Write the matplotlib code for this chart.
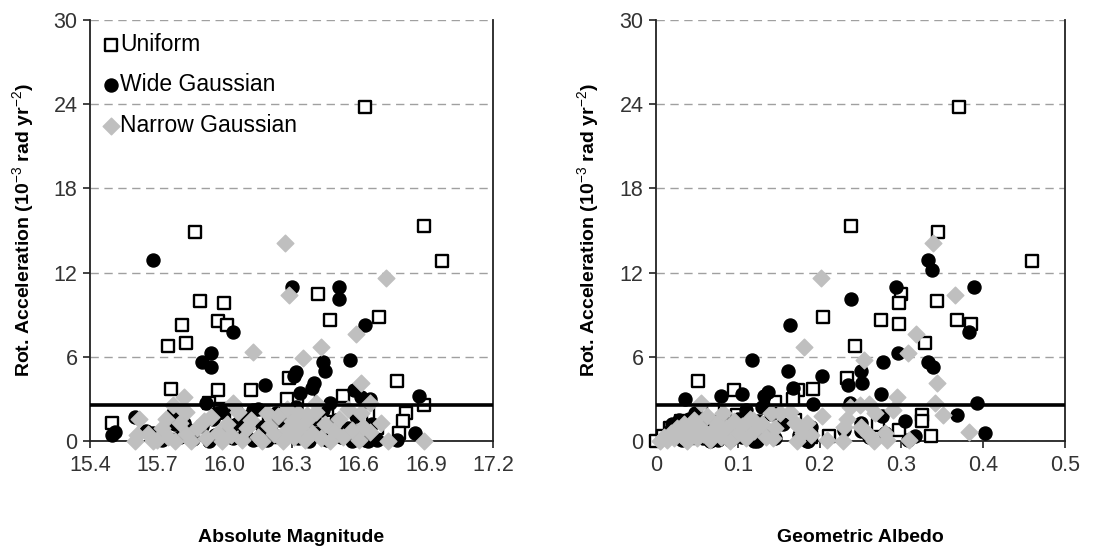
import matplotlib
matplotlib.use("Agg")
import matplotlib.pyplot as plt

plt.rcParams["font.family"] = ["Liberation Sans", "DejaVu Sans"]
plt.rcParams["mathtext.fontset"] = "custom"
plt.rcParams["mathtext.rm"] = "Liberation Sans"
plt.rcParams["mathtext.bf"] = "Liberation Sans:bold"

# --- absolute magnitude panel (x = H, y = rot. acceleration) ---
h_uni_x = [15.50, 15.87, 15.75, 15.81, 15.83, 15.89, 16.00, 15.97, 16.01, 15.76,
           15.97, 16.12, 16.63, 16.89, 16.97, 16.42, 16.47, 16.69, 16.77, 16.29,
           16.28, 16.53, 16.89, 16.81, 16.80, 16.78, 16.64, 15.78, 15.89, 15.93,
           15.98, 16.46, 16.61, 16.20, 16.08, 16.35, 16.50, 16.25, 16.68, 16.05,
           16.38, 16.37]
h_uni_y = [1.3, 14.9, 6.8, 8.3, 7.0, 10.0, 9.8, 8.55, 8.3, 3.7,
           3.6, 3.6, 23.8, 15.3, 12.8, 10.5, 8.6, 8.8, 4.3, 4.5,
           3.0, 3.2, 2.6, 2.0, 1.45, 0.55, 1.9, 0.9, 0.55, 2.7,
           2.3, 2.2, 1.5, 1.4, 0.8, 1.2, 0.4, 0.3, 0.9, 1.9,
           3.0, 1.5]

h_wide_x = [15.50, 15.51, 15.60, 15.68, 15.65, 15.68, 15.90, 15.94, 15.94, 16.04,
            16.18, 16.30, 16.32, 16.31, 16.34, 16.40, 16.39, 16.44, 16.45, 16.51,
            16.51, 16.56, 16.63, 16.58, 16.61, 16.65, 16.87, 16.85, 16.47, 15.92,
            15.97, 16.77, 16.63, 16.68, 16.13, 16.24, 16.27, 15.77, 15.82,
            15.72, 15.78, 15.80, 15.84, 15.86, 15.90, 15.93, 15.95, 15.96, 15.99,
            16.02, 16.04, 16.06, 16.09, 16.11, 16.13, 16.15, 16.17, 16.19, 16.21,
            16.23, 16.25, 16.26, 16.28, 16.30, 16.32, 16.33, 16.36, 16.38, 16.40,
            16.42, 16.44, 16.46, 16.48, 16.50, 16.52, 16.55, 16.57, 16.59, 16.62,
            16.64, 16.66]
h_wide_y = [0.4, 0.65, 1.7, 12.9, 0.7, 0.55, 5.65, 6.3, 5.3, 7.8,
            4.0, 11.0, 4.9, 4.6, 3.4, 4.1, 3.75, 5.65, 5.0, 10.95,
            10.1, 5.8, 8.3, 3.6, 3.15, 3.0, 3.2, 0.55, 2.7, 2.7,
            2.0, 0.1, 0.1, 0.05, 2.2, 1.7, 1.4, 2.0, 1.3,
            0.1, 1.2, 0.3, 0.8, 0.15, 1.1, 0.0, 1.6, 0.4, 2.1,
            0.9, 0.2, 1.3, 0.6, 1.8, 0.1, 2.3, 1.0, 0.05, 0.7,
            2.0, 1.5, 0.3, 1.9, 0.8, 2.4, 0.2, 1.3, 0.0, 1.6,
            0.6, 2.2, 0.1, 1.1, 1.5, 0.3, 0.9, 0.0, 1.8, 0.4,
            0.0, 1.2]

h_narrow_x = [15.60, 15.62, 15.61, 15.68, 15.74, 15.77, 15.82, 15.81, 15.83, 15.91,
              16.04, 16.13, 16.27, 16.29, 16.35, 16.43, 16.59, 16.61, 16.72, 16.65,
              16.61, 16.89, 16.65, 16.73, 16.70, 16.41, 16.28, 16.19, 16.37,
              15.66, 15.70, 15.72, 15.75, 15.78, 15.80, 15.83, 15.85, 15.88, 15.92,
              15.94, 15.97, 15.99, 16.01, 16.03, 16.06, 16.08, 16.10, 16.12, 16.15,
              16.17, 16.20, 16.22, 16.24, 16.26, 16.28, 16.30, 16.31, 16.33, 16.34,
              16.36, 16.37, 16.39, 16.41, 16.43, 16.45, 16.47, 16.49, 16.51, 16.53,
              16.55, 16.57, 16.60, 16.62]
h_narrow_y = [0.0, 1.55, 0.4, 0.0, 1.6, 2.55, 3.15, 2.3, 2.1, 1.4,
              2.7, 6.35, 14.1, 10.4, 5.9, 6.7, 7.6, 4.1, 11.6, 2.7,
              2.0, 0.0, 0.65, 0.0, 1.25, 2.7, 2.3, 2.0, 1.85,
              0.5, 0.1, 0.9, 0.3, 0.0, 1.3, 0.5, 0.0, 0.9, 0.2,
              1.7, 0.6, 0.0, 1.2, 0.4, 2.1, 0.1, 0.9, 1.5, 0.3,
              0.0, 1.1, 0.5, 1.8, 0.0, 0.8, 1.4, 0.3, 2.0, 0.9,
              0.1, 1.5, 0.6, 2.1, 0.2, 1.2, 0.0, 0.7, 1.6, 0.3,
              2.3, 0.8, 0.1, 1.0]

# --- geometric albedo panel ---
p_uni_x = [0.370, 0.238, 0.345, 0.460, 0.300, 0.297, 0.344, 0.204, 0.275, 0.297,
           0.368, 0.385, 0.243, 0.329, 0.234, 0.051, 0.095, 0.192, 0.174, 0.168,
           0.145, 0.099, 0.062, 0.212, 0.271, 0.297, 0.336, 0.325, 0.325, 0.0,
           0.009, 0.017, 0.02, 0.03, 0.04, 0.06, 0.075, 0.12, 0.14, 0.17,
           0.19, 0.07]
p_uni_y = [23.8, 15.3, 14.9, 12.8, 10.5, 9.8, 10.0, 8.8, 8.6, 8.35,
           8.6, 8.35, 6.8, 7.0, 4.5, 4.3, 3.6, 3.7, 3.65, 3.0,
           2.8, 1.85, 2.0, 0.35, 1.15, 0.8, 0.35, 1.85, 1.45, 0.0,
           0.35, 0.9, 0.6, 1.4, 0.2, 1.1, 0.4, 0.9, 0.5, 1.5,
           0.3, 2.2]

p_wide_x = [0.332, 0.337, 0.389, 0.294, 0.238, 0.164, 0.383, 0.296, 0.277, 0.117,
            0.161, 0.251, 0.203, 0.252, 0.235, 0.168, 0.333, 0.339, 0.392, 0.368,
            0.402, 0.036, 0.080, 0.105, 0.137, 0.132, 0.275, 0.237, 0.192, 0.304,
            0.251, 0.250, 0.317, 0.308, 0.276, 0.076, 0.123, 0.186,
            0.015, 0.020, 0.025, 0.028, 0.032, 0.035, 0.040, 0.045, 0.048, 0.052,
            0.058, 0.062, 0.066, 0.070, 0.075, 0.085, 0.090, 0.095, 0.100, 0.105,
            0.110, 0.115, 0.120, 0.125, 0.130, 0.135, 0.140, 0.145, 0.155, 0.175,
            0.185, 0.190, 0.230, 0.260, 0.280]
p_wide_y = [12.9, 12.2, 10.95, 10.95, 10.1, 8.3, 7.8, 6.3, 5.65, 5.8,
            5.0, 5.0, 4.6, 4.15, 4.0, 3.75, 5.65, 5.3, 2.7, 1.85,
            0.55, 3.0, 3.2, 3.35, 3.5, 3.2, 3.35, 2.7, 2.65, 1.45,
            0.7, 1.3, 0.35, 0.07, 1.75, 0.05, 0.0, 0.0,
            0.3, 1.2, 0.6, 1.5, 0.1, 1.0, 1.6, 0.4, 2.0, 0.9,
            0.2, 1.4, 0.0, 1.1, 0.5, 1.3, 0.1, 0.8, 1.6, 0.3,
            2.2, 0.9, 0.0, 1.4, 2.4, 0.6, 1.9, 0.2, 1.2, 0.4,
            0.0, 1.0, 0.8, 0.3, 0.6]

p_narrow_x = [0.339, 0.202, 0.366, 0.318, 0.181, 0.254, 0.308, 0.344, 0.295, 0.341,
              0.351, 0.383, 0.055, 0.082, 0.119, 0.141, 0.151, 0.164, 0.203, 0.237,
              0.249, 0.260, 0.268, 0.290, 0.233, 0.229, 0.266, 0.282, 0.309, 0.172,
              0.209, 0.143, 0.176, 0.184,
              0.005, 0.010, 0.014, 0.018, 0.022, 0.026, 0.030, 0.034, 0.038, 0.042,
              0.046, 0.050, 0.054, 0.058, 0.062, 0.066, 0.070, 0.075, 0.080, 0.085,
              0.090, 0.095, 0.100, 0.105, 0.110, 0.115, 0.120, 0.130, 0.135, 0.145,
              0.170, 0.180, 0.190, 0.250, 0.260, 0.280, 0.230]
p_narrow_y = [14.1, 11.6, 10.4, 7.6, 6.7, 5.8, 6.3, 4.1, 3.1, 2.7,
              1.85, 0.65, 2.7, 2.0, 1.5, 2.0, 2.0, 2.1, 1.8, 2.4,
              2.55, 2.65, 2.0, 2.2, 1.6, 0.0, 0.0, 0.1, 0.05, 0.0,
              0.05, 0.2, 1.0, 1.25,
              0.0, 0.3, 0.1, 0.6, 0.2, 0.9, 0.4, 1.2, 0.0, 0.7,
              1.5, 0.2, 1.0, 0.5, 1.8, 0.1, 0.8, 1.3, 0.3, 0.9,
              0.0, 1.4, 0.6, 1.1, 0.2, 1.6, 0.7, 1.2, 0.3, 0.9,
              1.3, 0.6, 0.4, 1.0, 0.4, 0.6, 1.0]

threshold = 2.6
y_ticks = [0, 6, 12, 18, 24, 30]
h_ticks = [15.4, 15.7, 16.0, 16.3, 16.6, 16.9, 17.2]
p_ticks = [0, 0.1, 0.2, 0.3, 0.4, 0.5]
p_tick_labels = ["0", "0.1", "0.2", "0.3", "0.4", "0.5"]

ylab = r"Rot. Acceleration (10$^{-3}$ rad yr$^{-2}$)"
grey = "#BFBFBF"


def style_axes(ax):
    ax.set_ylim(0, 30)
    ax.set_yticks(y_ticks)
    ax.set_yticklabels([str(t) for t in y_ticks])
    ax.spines["top"].set_visible(False)
    for s in ["left", "right", "bottom"]:
        ax.spines[s].set_color("#222222")
        ax.spines[s].set_linewidth(1.3)
    ax.yaxis.grid(True, linestyle=(0, (6, 4)), color="#A0A0A0", linewidth=1.0)
    ax.set_axisbelow(True)
    ax.tick_params(direction="out", length=5, width=1.2, labelsize=15.5,
                   labelcolor="#333333", color="#222222")
    ax.tick_params(axis="x", pad=5)
    ax.tick_params(axis="y", pad=4)
    ax.axhline(threshold, color="black", linewidth=2.6, zorder=6)
    ax.set_ylabel(ylab, fontsize=14, fontweight="bold", va="center")
    ax.yaxis.set_label_coords(-0.165, 0.5)


def draw(ax, ux, uy, wx, wy, nx, ny, lab=False):
    ax.scatter(ux, uy, marker="s", s=76, facecolors="white", edgecolors="black",
               linewidths=1.7, zorder=3, clip_on=False, label="Uniform" if lab else None)
    ax.scatter(wx, wy, marker="o", s=88, color="black", zorder=4, clip_on=False,
               label="Wide Gaussian" if lab else None)
    ax.scatter(nx, ny, marker="D", s=72, color=grey, zorder=5, clip_on=False,
               label="Narrow Gaussian" if lab else None)


fig = plt.figure(figsize=(11.14, 5.52), dpi=100)
ax1 = fig.add_axes([0.0808, 0.2011, 0.3618, 0.7627])
ax2 = fig.add_axes([0.5889, 0.2011, 0.3671, 0.7627])

draw(ax1, h_uni_x, h_uni_y, h_wide_x, h_wide_y, h_narrow_x, h_narrow_y, lab=True)
style_axes(ax1)
ax1.set_xlim(15.4, 17.2)
ax1.set_xticks(h_ticks)
ax1.set_xticklabels(["%.1f" % t for t in h_ticks])
ax1.set_xlabel("Absolute Magnitude", fontsize=14, fontweight="bold")
ax1.xaxis.set_label_coords(0.5, -0.21)
ax1.legend(loc="upper left", frameon=False, fontsize=16.5, handletextpad=0.0,
           labelspacing=0.78, borderaxespad=0.25, handlelength=0.75,
           borderpad=0.3, scatterpoints=1)

draw(ax2, p_uni_x, p_uni_y, p_wide_x, p_wide_y, p_narrow_x, p_narrow_y)
style_axes(ax2)
ax2.set_xlim(0, 0.5)
ax2.set_xticks(p_ticks)
ax2.set_xticklabels(p_tick_labels)
ax2.set_xlabel("Geometric Albedo", fontsize=14, fontweight="bold")
ax2.xaxis.set_label_coords(0.5, -0.21)

fig.savefig("out.png", dpi=100)
